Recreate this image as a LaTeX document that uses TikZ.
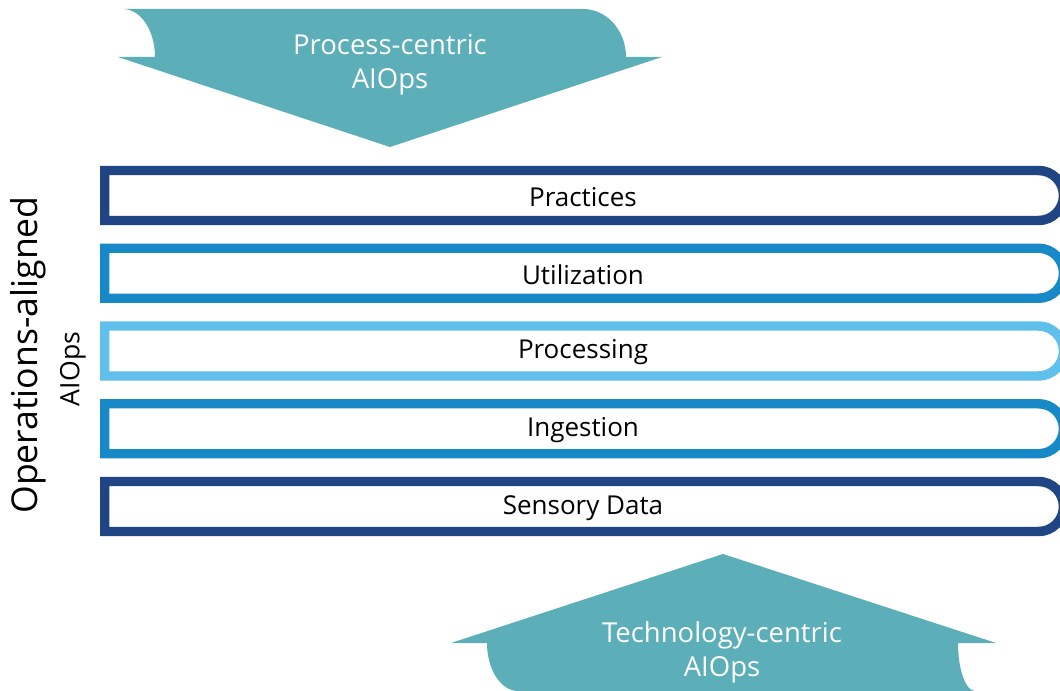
\documentclass[tikz,border=0pt]{standalone}
\usepackage{fontspec}
\setmainfont{Open Sans}
\definecolor{tealarrow}{RGB}{92,175,185}
\definecolor{darkbar}{RGB}{31,69,133}
\definecolor{midbar}{RGB}{24,137,199}
\definecolor{lightbar}{RGB}{96,191,235}
\tikzset{
  barline/.style={line width=7.1pt, fill=white},
  barlabel/.style={font=\fontsize{19.5}{22}\selectfont, text=black, inner sep=0pt},
  arrowtext/.style={font=\fontsize{20.6}{25.5}\selectfont, text=white, align=center, inner sep=0pt},
  sidetext/.style={text=black, inner sep=0pt, rotate=90}
}
\begin{document}
\begin{tikzpicture}[x=0.75pt,y=-0.75pt]
\useasboundingbox (0,0) rectangle (1060,691);
\clip (0,0) rectangle (1060,691);
% top arrow
\fill[tealarrow] (123,9) -- (583,9) .. controls (606.7,9) and (626,30.5) .. (626,57)
  -- (662,57) -- (390,147) -- (118,57) -- (155,57)
  .. controls (155,30.5) and (140.7,9) .. (123,9) -- cycle;
% bottom arrow
\fill[tealarrow] (723,554) -- (996,643) -- (958,643)
  .. controls (958,669.5) and (965.6,691) .. (975,691) -- (518,691)
  .. controls (500.9,691) and (487,669.5) .. (487,643) -- (451,643) -- cycle;
\node[arrowtext] (pc) at (390,65) {Process-centric\\AIOps};
\node[arrowtext] (tc) at (722,652) {Technology-centric\\AIOps};
% bars
\foreach \c/\col/\nm/\txt in {195.5/darkbar/practices/Practices,273.25/midbar/utilization/Utilization,351/lightbar/processing/Processing,428.75/midbar/ingestion/Ingestion,506.5/darkbar/sensory/Sensory Data}{
  \draw[barline, draw=\col] (104.75,\c-25) {[rounded corners=18.75pt] -- (1063.5,\c-25) -- (1063.5,\c+25)} -- (104.75,\c+25) -- cycle;
  \node[barlabel] (\nm) at (583,\c+1.5) {\txt};
}
% side labels
\node[sidetext, font=\fontsize{26.7}{30}\selectfont] (ops) at (28,355) {Operations-aligned};
\node[sidetext, font=\fontsize{20}{24}\selectfont] (aiops) at (73,369) {AIOps};
\end{tikzpicture}
\end{document}
